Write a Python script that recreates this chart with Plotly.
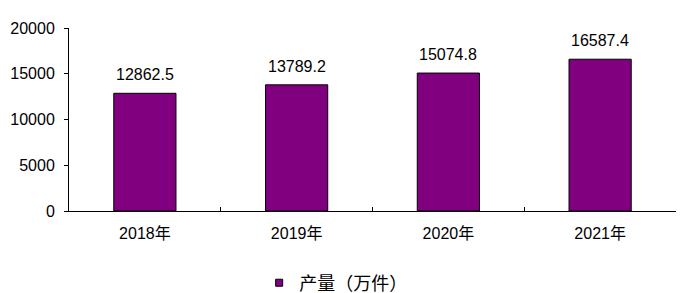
import plotly.graph_objects as go

categories = ["2018年", "2019年", "2020年", "2021年"]
values = [12862.5, 13789.2, 15074.8, 16587.4]
series_name = "产量（万件）"
y_ticks = [0, 5000, 10000, 15000, 20000]

fig = go.Figure()
fig.add_trace(go.Bar(
    x=categories, y=values, name=series_name, showlegend=False,
    marker=dict(color="#800080", line=dict(color="#000000", width=1)),
    width=0.41,
))
# legend entry (small square swatch like the reference)
fig.add_trace(go.Scatter(
    x=[None], y=[None], mode="markers", name=series_name,
    marker=dict(symbol="square", size=7, color="#800080",
                line=dict(color="#000000", width=1)),
))
for c, v in zip(categories, values):
    fig.add_annotation(x=c, y=v, text=f"{v:.1f}", showarrow=False,
                       yanchor="bottom", yshift=8,
                       font=dict(size=16, color="#000000"))

fig.update_layout(
    width=682, height=293,
    margin=dict(l=69, r=6, t=28, b=82),
    paper_bgcolor="white", plot_bgcolor="white",
    font=dict(family="Liberation Sans, Arial, Noto Sans CJK SC", size=16, color="#000000"),
    showlegend=True,
    legend=dict(orientation="h", xref="container", yref="container",
                x=0.38, xanchor="left", y=0.034, yanchor="middle",
                font=dict(size=18), itemwidth=30),
    bargap=0.59,
)
fig.update_xaxes(type="category", showline=True, linecolor="#000000", linewidth=1,
                 ticks="inside", tickson="boundaries", ticklen=4, tickcolor="#000000",
                 showgrid=False, ticklabelstandoff=8)
fig.update_yaxes(range=[0, 20000], tickvals=y_ticks, tickformat="d", showline=True,
                 linecolor="#000000", linewidth=1, ticks="outside", ticklen=4,
                 tickcolor="#000000", showgrid=False, zeroline=False,
                 ticklabelstandoff=6)

fig.write_html("out.html")
